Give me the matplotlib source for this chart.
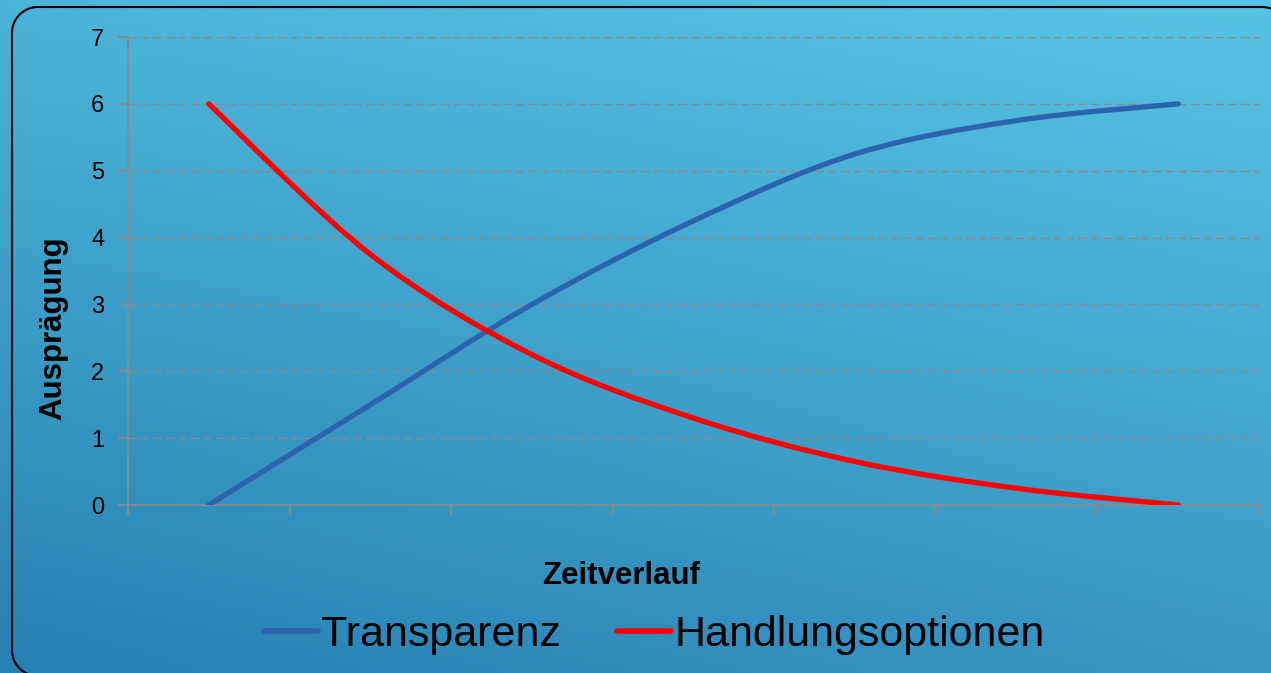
import numpy as np
import matplotlib
matplotlib.use("Agg")
import matplotlib.pyplot as plt
from matplotlib.path import Path
from matplotlib.patches import PathPatch
from matplotlib.lines import Line2D

plt.rcParams['font.family'] = ['Liberation Sans', 'DejaVu Sans']

# ---- data ----
categories = ["", "", "", "", "", "", ""]
transparenz = [0, 1.5, 3.0, 4.25, 5.25, 5.75, 6]
handlungsoptionen = [6, 3.75, 2.25, 1.3, 0.65, 0.25, 0]
series_names = ["Transparenz", "Handlungsoptionen"]
y_ticks = [0, 1, 2, 3, 4, 5, 6, 7]
x_label = "Zeitverlauf"
y_label = "Ausprägung"

W, H, DPI = 1271, 673, 100
fig = plt.figure(figsize=(W / DPI, H / DPI), dpi=DPI)

# ---- background gradient (bg axes uses pixel-based data coordinates, origin bottom-left) ----
bg = fig.add_axes([0, 0, 1, 1], zorder=-10)
tl = np.array([76, 180, 216]) / 255
tr = np.array([86, 196, 228]) / 255
bl = np.array([38, 128, 178]) / 255
br = np.array([58, 150, 196]) / 255
u = np.linspace(0, 1, 200)[None, :, None]
v = np.linspace(0, 1, 120)[:, None, None]
img = (1 - v) * ((1 - u) * tl + u * tr) + v * ((1 - u) * bl + u * br)
bg.imshow(img, aspect='auto', extent=[0, W, 0, H], origin='upper', interpolation='bilinear')
bg.set_axis_off()


def rounded_rect_polyline(x0, y0, x1, y1, r, n=24):
    """Rounded rectangle outline as a polyline (x0,y0 bottom-left, x1,y1 top-right)."""
    pts = []
    centers = [(x1 - r, y1 - r, 0), (x0 + r, y1 - r, 90),
               (x0 + r, y0 + r, 180), (x1 - r, y0 + r, 270)]
    for cx, cy, a0 in centers:
        a = np.radians(np.linspace(a0, a0 + 90, n))
        pts.extend(zip(cx + r * np.cos(a), cy + r * np.sin(a)))
    pts.append(pts[0])
    return np.array(pts)


# rounded border, partly outside the canvas on the right and bottom
left_px, top_px, right_px, bottom_px = 12, 7, 1288, 676
outline = rounded_rect_polyline(left_px, H - bottom_px, right_px, H - top_px, 26)
bg.plot(outline[:, 0], outline[:, 1], color='black', linewidth=1.5,
        solid_joinstyle='round', zorder=5)
bg.set_autoscale_on(False)
bg.set_xlim(0, W)
bg.set_ylim(0, H)

# ---- main axes ----
ax = fig.add_axes([128 / W, 1 - 505 / H, (1259 - 128) / W, (505 - 37) / H])
ax.set_facecolor('none')
x = np.arange(len(categories))
ax.set_xlim(-0.5, len(categories) - 0.5)
ax.set_ylim(0, 7)

grid_col = '#8a8a8a'
ax.set_yticks(y_ticks)
ax.yaxis.grid(True, linestyle=(0, (6, 3)), color=grid_col, linewidth=1)
ax.set_axisbelow(True)
ax.set_xticks(np.arange(-0.5, len(categories) + 0.5, 1))
ax.set_xticklabels([])
for s in ['top', 'right']:
    ax.spines[s].set_visible(False)
for s in ['left', 'bottom']:
    ax.spines[s].set_color(grid_col)
    ax.spines[s].set_linewidth(1.3)
ax.tick_params(axis='both', colors=grid_col, length=7, width=1.3, direction='out')
ax.tick_params(axis='y', labelcolor='black', labelsize=17, pad=10)


def smooth_path(xs, ys):
    pts = np.column_stack([xs, ys]).astype(float)
    n = len(pts)
    verts = [pts[0]]
    codes = [Path.MOVETO]
    for i in range(n - 1):
        p0 = pts[i - 1] if i > 0 else pts[i]
        p1 = pts[i]
        p2 = pts[i + 1]
        p3 = pts[i + 2] if i + 2 < n else pts[i + 1]
        c1 = p1 + (p2 - p0) / 6.0
        c2 = p2 - (p3 - p1) / 6.0
        verts += [c1, c2, p2]
        codes += [Path.CURVE4] * 3
    return Path(verts, codes)


colors = ['#2C63AF', '#FF0000']
for ys, col in zip([transparenz, handlungsoptionen], colors):
    pp = PathPatch(smooth_path(x, ys), fill=False, edgecolor=col,
                   linewidth=3.8, capstyle='round', joinstyle='round', zorder=3)
    ax.add_patch(pp)

# axis labels
fig.text(53 / W, 1 - 328 / H, y_label, rotation=90, ha='center', va='center',
         fontsize=22.5, fontweight='bold')
fig.text(621 / W, 1 - 576 / H, x_label, ha='center', va='center',
         fontsize=22.5, fontweight='bold')

handles = [Line2D([], [], color=c, linewidth=4, solid_capstyle='round') for c in colors]
fig.legend(handles, series_names, loc='center', bbox_to_anchor=(654 / W, 1 - 635 / H),
           ncol=2, frameon=False, fontsize=31, handlelength=1.25, handletextpad=0.08,
           columnspacing=1.3, borderpad=0, borderaxespad=0)

fig.savefig('out.png', dpi=DPI)
